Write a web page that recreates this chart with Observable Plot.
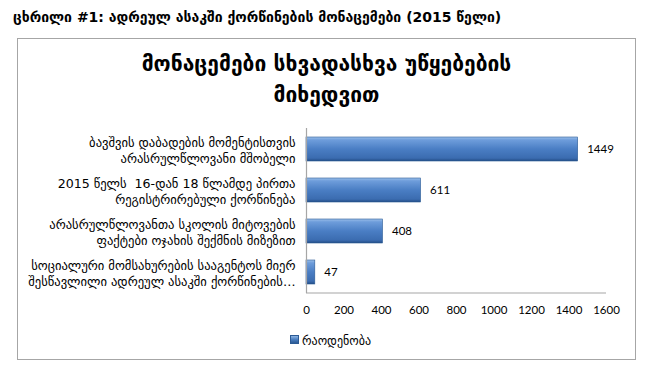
<!DOCTYPE html>
<html><head><meta charset="utf-8">
<script src="https://cdn.jsdelivr.net/npm/d3@7"></script>
<script src="https://cdn.jsdelivr.net/npm/@observablehq/plot@0.6"></script>
<style>
body{margin:0;background:#fff;}
#wrap{position:relative;width:649px;height:367px;overflow:hidden;font-family:"DejaVu Sans",sans-serif;color:#000;}
#hdr{position:absolute;left:13px;top:8px;font-weight:bold;font-size:14px;line-height:18px;white-space:nowrap;}
#box{position:absolute;left:17px;top:38px;width:619px;height:322px;border:1.5px solid #a6a6a6;box-sizing:border-box;}
#title{position:absolute;left:17px;width:619px;top:49px;text-align:center;font-weight:bold;font-size:21px;line-height:31px;}
#chart{position:absolute;left:0;top:120px;}
#legend{position:absolute;left:290px;top:333px;font-size:12px;line-height:16px;white-space:nowrap;}
#legend .sw{display:inline-block;width:7px;height:7px;margin-right:3px;vertical-align:1px;background:linear-gradient(#8db4e2,#4a7ec0 50%,#2b5a94);border:0.5px solid #2b5a94;}
</style>
</head><body>
<div id="wrap">
  <div id="hdr"></div>
  <div id="box"></div>
  <div id="title"></div>
  <div id="chart"></div>
  <div id="legend"></div>
</div>
<script>
const headerText = "ცხრილი #1: ადრეულ ასაკში ქორწინების მონაცემები (2015 წელი)";
const titleLines = ["მონაცემები სხვადასხვა უწყებების", "მიხედვით"];
const categories = [
  "ბავშვის დაბადების მომენტისთვის\nარასრულწლოვანი მშობელი",
  "2015 წელს  16-დან 18 წლამდე პირთა\nრეგისტრირებული ქორწინება",
  "არასრულწლოვანთა სკოლის მიტოვების\nფაქტები ოჯახის შექმნის მიზეზით",
  "სოციალური მომსახურების სააგენტოს მიერ\nშესწავლილი ადრეულ ასაკში ქორწინების…"
];
const values = [1449, 611, 408, 47];
const xTicks = [0, 200, 400, 600, 800, 1000, 1200, 1400, 1600];
const seriesName = "რაოდენობა";

document.getElementById("hdr").textContent = headerText;
document.getElementById("title").innerHTML = titleLines.map(t => `<div>${t}</div>`).join("");
document.getElementById("legend").innerHTML = `<span class="sw"></span>${seriesName}`;

const data = categories.map((c, i) => ({cat: c, value: values[i]}));
const xMax = xTicks[xTicks.length - 1];

const bottomLine = (index, scales, values, dimensions) => {
  const y = dimensions.height - dimensions.marginBottom;
  return d3.create("svg:line")
    .attr("x1", scales.x(0)).attr("x2", scales.x(xMax))
    .attr("y1", y).attr("y2", y)
    .attr("stroke", "#a6a6a6").attr("stroke-width", 1.2).node();
};

const svg = Plot.plot({
  width: 649, height: 205,
  marginLeft: 306, marginRight: 43, marginTop: 8, marginBottom: 32,
  style: {background: "transparent", overflow: "visible", fontFamily: "DejaVu Sans", color: "#000"},
  x: {domain: [0, xMax], label: null},
  y: {domain: categories, paddingInner: 0.42, paddingOuter: 0.21, label: null},
  marks: [
    Plot.barX(data, {x: "value", y: "cat", fill: "url(#barGrad)", stroke: "#2b5a94", strokeWidth: 0.6}),
    Plot.ruleX([0], {stroke: "#a6a6a6", strokeWidth: 1.2}),
    bottomLine,
    Plot.text(data, {x: "value", y: "cat", text: d => String(d.value), textAnchor: "start", dx: 9, fontFamily: "Lato", fontSize: 11.5, fill: "#000"}),
    Plot.axisX({ticks: xTicks, tickSize: 0, tickPadding: 12, fontFamily: "Lato", fontSize: 11.5, tickFormat: d => String(d), label: null}),
    Plot.axisY({tickSize: 0, tickPadding: 11, fontFamily: "DejaVu Sans", fontSize: 12.6, lineHeight: 1.3, tickFormat: d => d, label: null})
  ]
});

const defs = d3.create("svg:defs");
const g = defs.append("linearGradient").attr("id", "barGrad").attr("x1", 0).attr("y1", 0).attr("x2", 0).attr("y2", 1);
[["0%", "#9cc0ea"], ["12%", "#6e9ddb"], ["50%", "#4a7ec4"], ["88%", "#3b6cb0"], ["100%", "#234d86"]]
  .forEach(([o, c]) => g.append("stop").attr("offset", o).attr("stop-color", c));
svg.insertBefore(defs.node(), svg.firstChild);
document.getElementById("chart").appendChild(svg);
</script>
</body></html>
